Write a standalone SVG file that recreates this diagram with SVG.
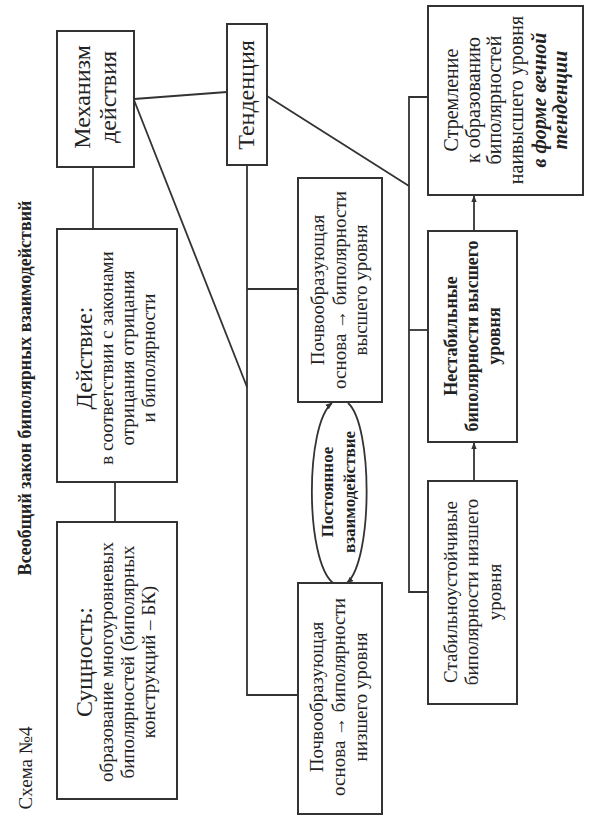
<svg xmlns="http://www.w3.org/2000/svg" width="591" height="829" viewBox="0 0 591 829" font-family="'Liberation Serif', 'DejaVu Serif', serif">
<style>
.box{fill:#fff;stroke:#333;stroke-width:2}
.ln{fill:none;stroke:#333;stroke-width:1.8}
text{font-family:'Liberation Serif','DejaVu Serif',serif;fill:#222;text-anchor:middle}
.big{font-size:24px}
.sm{font-size:19px}
.b{font-weight:bold}
.scr{font-weight:bold;font-style:italic}
</style>
<defs>
<marker id="ah" viewBox="0 0 10 10" refX="9" refY="5" markerWidth="7" markerHeight="7" markerUnits="userSpaceOnUse" orient="auto">
<path d="M0,1 L10,5 L0,9 Z" fill="#333"/>
</marker>
</defs>
<rect width="591" height="829" fill="#fff"/>
<g id="title">
<text class="b" font-size="18" x="31" y="388" transform="rotate(-90 31 388)">Всеобщий закон биполярных взаимодействий</text>
<text font-size="19" x="32" y="768" transform="rotate(-90 32 768)">Схема №4</text>
</g>
<g id="connectors">
<line class="ln" x1="93" y1="167" x2="93" y2="229"/>
<line class="ln" x1="115" y1="482" x2="115" y2="522"/>
<line class="ln" x1="134" y1="99" x2="227" y2="92"/>
<line class="ln" x1="134" y1="100" x2="247" y2="387"/>
<polyline class="ln" points="247,165 247,695 298,695"/>
<line class="ln" x1="247" y1="289" x2="298" y2="289"/>
<line class="ln" x1="267" y1="96" x2="409" y2="186"/>
<polyline class="ln" points="428,97 409,97 409,592 428,592"/>
<line class="ln" x1="409" y1="330" x2="428" y2="330"/>
<line class="ln" x1="474" y1="481" x2="474" y2="443" marker-end="url(#ah)"/>
<line class="ln" x1="474" y1="231" x2="474" y2="196" marker-end="url(#ah)"/>
<path class="ln" d="M333,583 C305,560 305,425 332,403" marker-end="url(#ah)"/>
<path class="ln" d="M348,403 C373,425 373,560 347,583" marker-end="url(#ah)"/>
</g>
<g id="mechanism">
<rect class="box" x="57" y="31" width="77" height="136"/>
<text class="big" x="90" y="97" transform="rotate(-90 90 97)">Механизм<tspan x="90" dy="26">действия</tspan></text>
</g>
<g id="tendency">
<rect class="box" x="227" y="24" width="40" height="141"/>
<text class="big" x="254" y="95" transform="rotate(-90 254 95)">Тенденция</text>
</g>
<g id="action">
<rect class="box" x="57" y="229" width="120" height="253"/>
<text x="92" y="358" transform="rotate(-90 92 358)"><tspan class="big">Действие:</tspan><tspan class="sm" x="92" dy="21">в соответствии с законами</tspan><tspan class="sm" x="92" dy="21">отрицания отрицания</tspan><tspan class="sm" x="92" dy="21">и биполярности</tspan></text>
</g>
<g id="essence">
<rect class="box" x="57" y="522" width="120" height="277"/>
<text x="92" y="662" transform="rotate(-90 92 662)"><tspan class="big" font-size="25">Сущность:</tspan><tspan class="sm" x="92" dy="21">образование многоуровневых</tspan><tspan class="sm" x="92" dy="21">биполярностей (биполярных</tspan><tspan class="sm" x="92" dy="21">конструкций – БК)</tspan></text>
</g>
<g id="soil-high">
<rect class="box" x="298" y="178" width="84" height="224"/>
<text class="sm" x="324" y="290" transform="rotate(-90 324 290)">Почвообразующая<tspan x="324" dy="22">основа → биполярности</tspan><tspan x="324" dy="21">высшего уровня</tspan></text>
</g>
<g id="soil-low">
<rect class="box" x="298" y="583" width="84" height="231"/>
<text class="sm" x="323" y="697" transform="rotate(-90 323 697)">Почвообразующая<tspan x="323" dy="22">основа → биполярности</tspan><tspan x="323" dy="22">низшего уровня</tspan></text>
</g>
<g id="interaction">
<text class="b" font-size="17" x="333" y="492" transform="rotate(-90 333 492)">Постоянное<tspan x="333" dy="22">взаимодействие</tspan></text>
</g>
<g id="striving">
<rect class="box" x="428" y="6" width="155" height="189"/>
<text font-size="20" x="458" y="100" transform="rotate(-90 458 100)">Стремление<tspan x="458" dy="22">к образованию</tspan><tspan x="458" dy="21">биполярностей</tspan><tspan x="458" dy="22">наивысшего уровня</tspan><tspan class="scr" x="458" dy="23">в форме вечной</tspan><tspan class="scr" x="458" dy="21">тенденции</tspan></text>
</g>
<g id="unstable">
<rect class="box" x="428" y="231" width="89" height="211"/>
<text class="b" font-size="18" x="457" y="336" transform="rotate(-90 457 336)">Нестабильные<tspan x="457" dy="21">биполярности высшего</tspan><tspan x="457" dy="22">уровня</tspan></text>
</g>
<g id="stable">
<rect class="box" x="428" y="481" width="89" height="223"/>
<text class="sm" x="457" y="592" transform="rotate(-90 457 592)">Стабильноустойчивые<tspan x="457" dy="21">биполярности низшего</tspan><tspan x="457" dy="23">уровня</tspan></text>
</g>
</svg>
